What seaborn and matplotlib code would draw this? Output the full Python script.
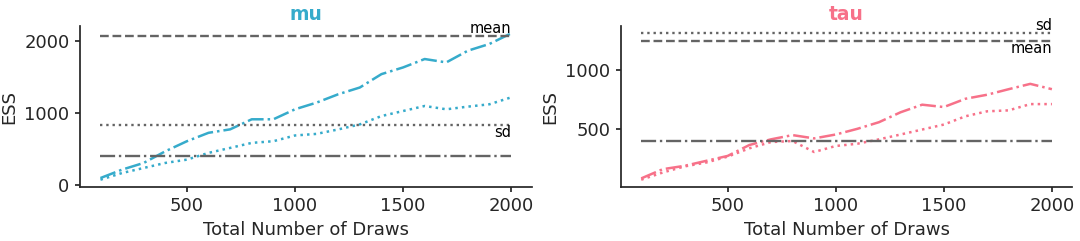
import matplotlib
matplotlib.use("Agg")
import matplotlib.pyplot as plt
import seaborn as sns
import pandas as pd

draws = [100, 200, 300, 400, 500, 600, 700, 800, 900, 1000,
         1100, 1200, 1300, 1400, 1500, 1600, 1700, 1800, 1900, 2000]

mu_mean = [98, 215, 308, 470, 610, 727, 775, 915, 915, 1054,
           1147, 1263, 1357, 1543, 1636, 1753, 1706, 1869, 1963, 2110]
mu_sd = [75, 168, 238, 308, 354, 448, 517, 587, 610, 690,
         712, 774, 844, 960, 1030, 1100, 1054, 1091, 1124, 1220]
tau_mean = [81, 159, 187, 229, 271, 363, 411, 447, 419, 452,
            500, 556, 640, 704, 684, 754, 788, 835, 880, 835]
tau_sd = [70, 131, 182, 215, 265, 335, 388, 397, 304, 355,
          374, 411, 452, 494, 536, 606, 648, 656, 709, 709]

mu_ref = {"mean": 2075, "sd": 830}
tau_ref = {"mean": 1243, "sd": 1307}
min_ess = 400

titles = ["mu", "tau"]
colors = ["#36abcb", "#f77189"]

sns.set_theme(style="ticks")
plt.rcParams["font.family"] = ["DejaVu Sans"]

fig, axes = plt.subplots(1, 2, figsize=(10.8, 2.41), dpi=100)
fig.subplots_adjust(left=0.074, right=0.993, bottom=0.224, top=0.892, wspace=0.197)

series = [(mu_mean, mu_sd, mu_ref), (tau_mean, tau_sd, tau_ref)]
for ax, title, color, (m, s, ref) in zip(axes, titles, colors, series):
    df = pd.DataFrame({"draws": draws, "mean": m, "sd": s})
    sns.lineplot(data=df, x="draws", y="mean", ax=ax, color=color,
                 linestyle="-.", linewidth=1.8)
    sns.lineplot(data=df, x="draws", y="sd", ax=ax, color=color,
                 linestyle=":", linewidth=1.8)
    ax.hlines(ref["mean"], draws[0], draws[-1], color="#646464",
              linestyles="--", lw=1.7)
    ax.hlines(ref["sd"], draws[0], draws[-1], color="#646464",
              linestyles=":", lw=1.7)
    ax.hlines(min_ess, draws[0], draws[-1], color="#646464",
              linestyles="-.", lw=1.7)
    mean_above = ref["mean"] > ref["sd"]
    ax.text(draws[-1], ref["mean"], "mean", ha="right",
            va="bottom" if mean_above else "top", fontsize=10.5, color="black")
    ax.text(draws[-1], ref["sd"], "sd", ha="right",
            va="top" if mean_above else "bottom", fontsize=10.5, color="black")
    ax.set_title(title, color=color, fontweight="bold", fontsize=13.5, pad=4)
    ax.set_xlabel("Total Number of Draws", fontsize=13)
    ax.set_ylabel("ESS", fontsize=13)
    ax.tick_params(labelsize=13, colors="#262626", length=3.5, pad=4)
    ax.set_xticks([500, 1000, 1500, 2000])
    ax.margins(x=0.05, y=0.05)
    sns.despine(ax=ax)

fig.savefig("out.png", dpi=100)
